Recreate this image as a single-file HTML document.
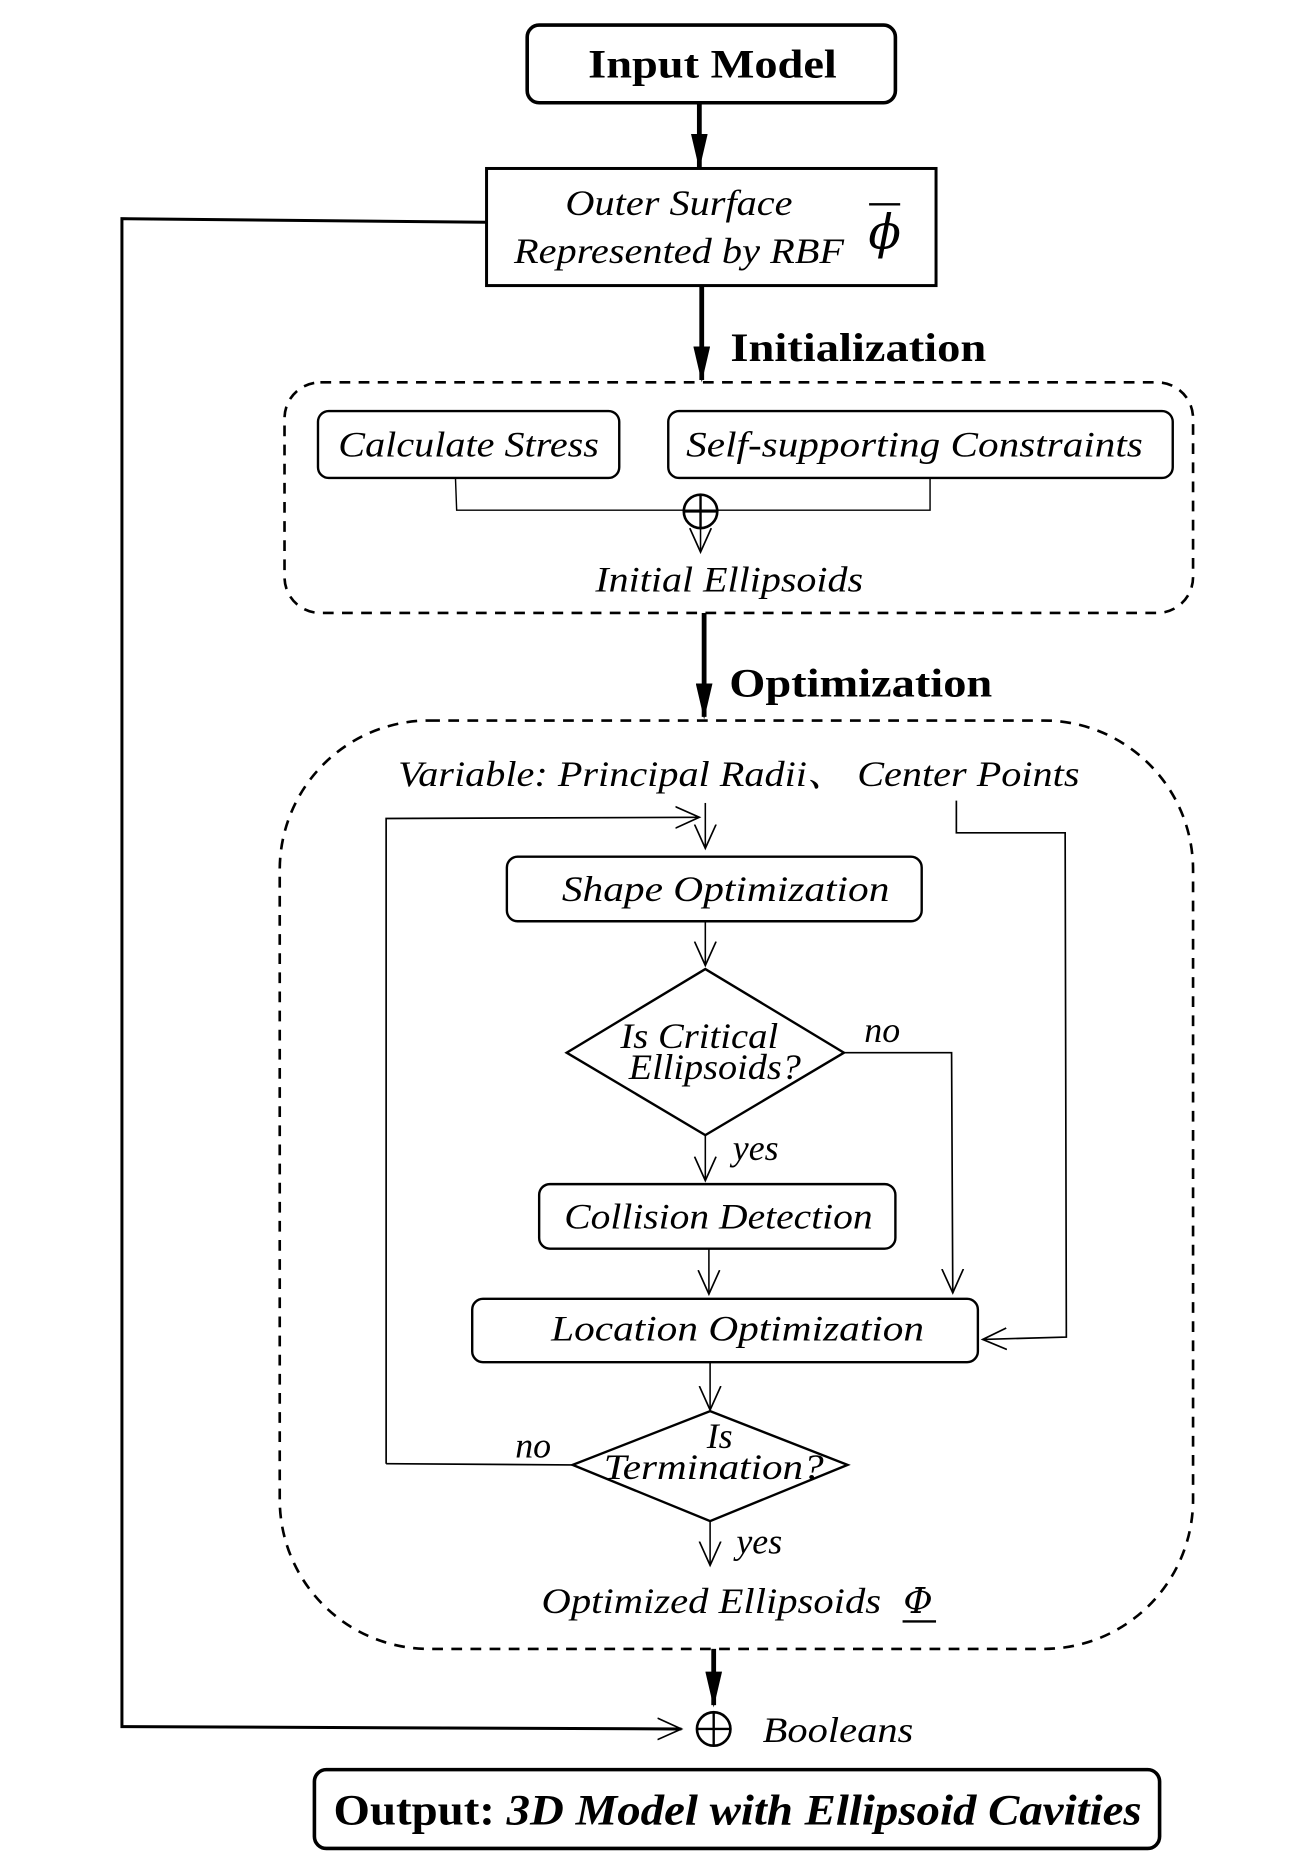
<!DOCTYPE html>
<html><head><meta charset="utf-8"><style>
html,body{margin:0;padding:0;background:#fff;}
svg{display:block;}
.it{font-family:"Liberation Serif","Noto Serif CJK SC",serif;font-style:italic;font-size:30px;fill:#000;}
.bd{font-family:"Liberation Serif",serif;font-weight:bold;font-size:34px;fill:#000;}
</style></head><body>
<svg width="1315" height="1864" viewBox="0 0 1100 1560" preserveAspectRatio="none" xmlns="http://www.w3.org/2000/svg">
<defs>
<marker id="fb" markerWidth="30" markerHeight="14" refX="28" refY="7" orient="auto" markerUnits="userSpaceOnUse" viewBox="0 0 30 14"><path d="M0,0 L30,7 L0,14 Z" fill="#000"/></marker>
<marker id="oh" markerWidth="22" markerHeight="20" refX="20" refY="10" orient="auto" markerUnits="userSpaceOnUse" viewBox="0 0 22 20"><path d="M0,1 L20,10 L0,19" fill="none" stroke="#000" stroke-width="1.4"/></marker>
</defs>
<g fill="none" stroke="#000">
<rect x="441" y="21" width="308" height="65" rx="10" stroke-width="3"/>
<line x1="585" y1="86" x2="585" y2="140" stroke-width="4" marker-end="url(#fb)"/>
<rect x="407" y="141" width="376" height="98" stroke-width="2.5"/>
<polyline points="407,186 102,183 102,1445 570,1447" stroke-width="2.5" marker-end="url(#oh)"/>
<line x1="587" y1="239" x2="587" y2="318" stroke-width="4" marker-end="url(#fb)"/>
<rect x="238" y="320" width="760" height="193" rx="30" stroke-width="2.2" stroke-dasharray="9,7"/>
<rect x="266" y="344" width="252" height="56" rx="9" stroke-width="2"/>
<rect x="559" y="344" width="422" height="56" rx="9" stroke-width="2"/>
<polyline points="381,400 382,427 778,427 778,400" stroke-width="1.2"/>
<circle cx="586" cy="428" r="14" stroke-width="2.2"/>
<line x1="572" y1="428" x2="600" y2="428" stroke-width="2"/>
<line x1="586" y1="414" x2="586" y2="442" stroke-width="2"/>
<line x1="586" y1="442" x2="586" y2="462" stroke-width="1.3" marker-end="url(#oh)"/>
<line x1="589" y1="513" x2="589" y2="600" stroke-width="4" marker-end="url(#fb)"/>
<rect x="234" y="603" width="764" height="777" rx="125" stroke-width="2.2" stroke-dasharray="9,7"/>
<polyline points="323,1225 323,685 585,684" stroke-width="1.4" marker-end="url(#oh)"/>
<line x1="590" y1="672" x2="590" y2="710" stroke-width="1.3" marker-end="url(#oh)"/>
<polyline points="800,670 800,697 891,697 892,1119 822,1121" stroke-width="1.4" marker-end="url(#oh)"/>
<rect x="424" y="717" width="347" height="54" rx="9" stroke-width="2"/>
<line x1="590" y1="771" x2="590" y2="808" stroke-width="1.3" marker-end="url(#oh)"/>
<polygon points="590,811 706,881 590,950 474,881" stroke-width="2"/>
<polyline points="706,881 796,881 797,1082" stroke-width="1.4" marker-end="url(#oh)"/>
<line x1="590" y1="950" x2="590" y2="988" stroke-width="1.3" marker-end="url(#oh)"/>
<rect x="451" y="991" width="298" height="54" rx="9" stroke-width="2"/>
<line x1="593" y1="1045" x2="593" y2="1083" stroke-width="1.3" marker-end="url(#oh)"/>
<rect x="395" y="1087" width="423" height="53" rx="9" stroke-width="2"/>
<line x1="594" y1="1140" x2="594" y2="1180" stroke-width="1.3" marker-end="url(#oh)"/>
<polygon points="594,1181 709,1226 594,1273 479,1226" stroke-width="2"/>
<line x1="479" y1="1226" x2="323" y2="1225" stroke-width="1.4"/>
<line x1="594" y1="1273" x2="594" y2="1310" stroke-width="1.3" marker-end="url(#oh)"/>
<line x1="755" y1="1357" x2="783" y2="1357" stroke-width="2"/>
<line x1="597" y1="1380" x2="597" y2="1427" stroke-width="4" marker-end="url(#fb)"/>
<circle cx="597" cy="1447" r="14" stroke-width="2.2"/>
<line x1="583" y1="1447" x2="611" y2="1447" stroke-width="2"/>
<line x1="597" y1="1433" x2="597" y2="1461" stroke-width="2"/>
<rect x="263" y="1481" width="707" height="66" rx="10" stroke-width="3"/>
<line x1="727" y1="171" x2="753" y2="171" stroke-width="2"/>
</g>
<text class="bd" x="596" y="65" text-anchor="middle" textLength="208" lengthAdjust="spacingAndGlyphs">Input Model</text>
<text class="it" x="568" y="180" text-anchor="middle" textLength="190" lengthAdjust="spacingAndGlyphs">Outer Surface</text>
<text class="it" x="568" y="220" text-anchor="middle" textLength="276" lengthAdjust="spacingAndGlyphs">Represented by RBF</text>
<text x="740" y="208" text-anchor="middle" style="font-family:'DejaVu Serif',serif;font-style:italic;font-size:40px;">ϕ</text>
<text class="bd" x="611" y="302" textLength="214" lengthAdjust="spacingAndGlyphs">Initialization</text>
<text class="it" x="392" y="382" text-anchor="middle" textLength="218" lengthAdjust="spacingAndGlyphs">Calculate Stress</text>
<text class="it" x="765" y="382" text-anchor="middle" textLength="382" lengthAdjust="spacingAndGlyphs">Self-supporting Constraints</text>
<text class="it" x="610" y="495" text-anchor="middle" textLength="224" lengthAdjust="spacingAndGlyphs">Initial Ellipsoids</text>
<text class="bd" x="610" y="583" textLength="220" lengthAdjust="spacingAndGlyphs">Optimization</text>
<text class="it" x="333" y="658" textLength="570" lengthAdjust="spacingAndGlyphs">Variable:  Principal Radii、 Center Points</text>
<text class="it" x="607" y="754" text-anchor="middle" textLength="274" lengthAdjust="spacingAndGlyphs">Shape Optimization</text>
<text class="it" x="585" y="877" text-anchor="middle" textLength="132" lengthAdjust="spacingAndGlyphs">Is Critical</text>
<text class="it" x="598" y="903" text-anchor="middle" textLength="144" lengthAdjust="spacingAndGlyphs">Ellipsoids?</text>
<text class="it" x="723" y="872">no</text>
<text class="it" x="613" y="971">yes</text>
<text class="it" x="601" y="1028" text-anchor="middle" textLength="258" lengthAdjust="spacingAndGlyphs">Collision Detection</text>
<text class="it" x="617" y="1122" text-anchor="middle" textLength="312" lengthAdjust="spacingAndGlyphs">Location Optimization</text>
<text class="it" x="602" y="1212" text-anchor="middle">Is</text>
<text class="it" x="597" y="1238" text-anchor="middle" textLength="184" lengthAdjust="spacingAndGlyphs">Termination?</text>
<text class="it" x="431" y="1220">no</text>
<text class="it" x="616" y="1300">yes</text>
<text class="it" x="595" y="1350" text-anchor="middle" textLength="284" lengthAdjust="spacingAndGlyphs">Optimized Ellipsoids</text>
<text x="768" y="1350" text-anchor="middle" style="font-family:'DejaVu Serif',serif;font-style:italic;font-size:30px;">Φ</text>
<text class="it" x="638" y="1458" textLength="126" lengthAdjust="spacingAndGlyphs">Booleans</text>
<text class="bd" x="617" y="1527" text-anchor="middle" textLength="676" lengthAdjust="spacingAndGlyphs" style="font-size:36px;">Output: <tspan font-style="italic">3D Model with Ellipsoid Cavities</tspan></text>
</svg>
</body></html>
